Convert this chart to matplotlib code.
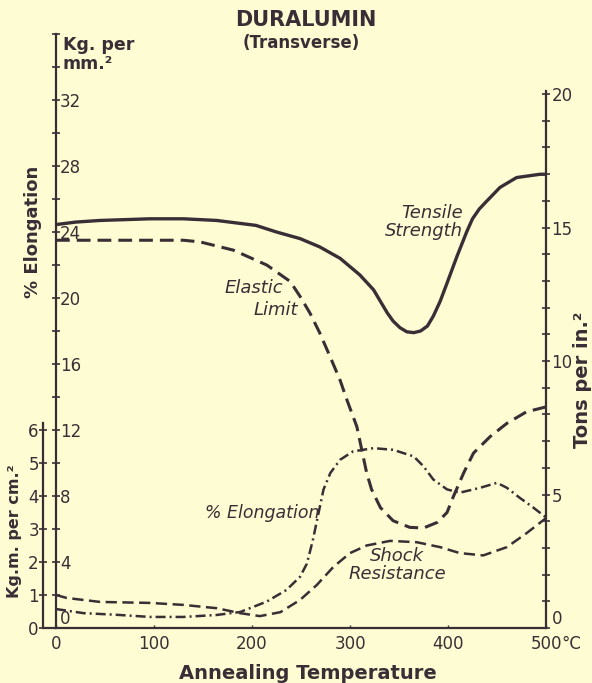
import matplotlib

matplotlib.use("Agg")
import matplotlib.pyplot as plt
from matplotlib.ticker import FixedLocator, MultipleLocator

# readings, x in deg C
tensile_t = [0, 20, 45, 96, 130, 164, 204, 225, 249, 269, 290, 310, 324, 331, 338,
             344, 351, 358, 365, 372, 379, 385, 392, 399, 409, 419, 425, 432, 440,
             453, 470, 494, 500]
tensile = [24.45, 24.6, 24.7, 24.8, 24.8, 24.7, 24.4, 24.0, 23.6, 23.1, 22.4, 21.4,
           20.5, 19.8, 19.1, 18.6, 18.2, 17.95, 17.9, 18.0, 18.3, 18.9, 19.8, 20.9,
           22.5, 24.0, 24.8, 25.4, 25.9, 26.7, 27.3, 27.5, 27.5]

elastic_t = [0, 60, 130, 147, 181, 215, 239, 249, 259, 269, 280, 290, 297, 307, 312,
             317, 322, 331, 344, 361, 375, 389, 399, 405, 416, 426, 443, 460, 480, 500]
elastic = [23.5, 23.5, 23.5, 23.4, 22.9, 22.0, 21.0, 20.1, 19.1, 17.9, 16.4, 15.0,
           13.8, 12.2, 10.8, 9.4, 8.4, 7.3, 6.5, 6.1, 6.06, 6.4, 7.0, 7.9, 9.4, 10.6,
           11.6, 12.4, 13.1, 13.4]

elong_t = [0, 28, 62, 96, 130, 164, 188, 215, 235, 249, 256, 262, 268, 273, 280, 290,
           303, 324, 344, 365, 375, 385, 399, 412, 433, 450, 460, 473, 487, 500]
elong = [1.15, 0.9, 0.8, 0.67, 0.67, 0.79, 0.97, 1.6, 2.3, 3.1, 3.9, 5.3, 7.0, 8.4,
         9.4, 10.2, 10.7, 10.9, 10.8, 10.4, 9.8, 9.0, 8.4, 8.2, 8.5, 8.8, 8.5, 7.9,
         7.3, 6.7]

shock_t = [0, 11, 45, 96, 130, 164, 188, 208, 229, 249, 266, 283, 300, 317, 341, 368,
           392, 412, 436, 460, 480, 500]
shock = [1.0, 0.91, 0.79, 0.76, 0.7, 0.6, 0.45, 0.36, 0.48, 0.85, 1.3, 1.85, 2.27,
         2.5, 2.64, 2.6, 2.45, 2.27, 2.2, 2.45, 2.87, 3.33]

x_ticks = [0, 100, 200, 300, 400, 500]
kg_ticks = [0, 4, 8, 12, 16, 20, 24, 28, 32]
tons_ticks = [0, 5, 10, 15, 20]
shock_ticks = [0, 1, 2, 3, 4, 5, 6]

INK = "#3a2e36"
PAPER = "#fdfcd2"
plt.rcParams["font.family"] = ["DejaVu Sans"]
plt.rcParams["text.color"] = INK

W, H = 592, 683
fig = plt.figure(figsize=(W / 100, H / 100), dpi=100, facecolor=PAPER)
ax = fig.add_axes([56 / W, 55 / H, 490 / W, 594 / H])
ax.set_facecolor(PAPER)
ax.set_xlim(0, 500)
ax.set_ylim(0, 36)

for s in ("top", "right"):
    ax.spines[s].set_visible(False)
for s in ("left", "bottom"):
    ax.spines[s].set_color(INK)
    ax.spines[s].set_linewidth(1.6)
ax.spines["left"].set_bounds(0, 36)

# bottom line runs on to the shock axis
ax.plot([-13 / 490, 0], [0, 0], transform=ax.transAxes, color=INK, lw=1.6,
        clip_on=False, solid_capstyle="butt")

ax.set_xticks(x_ticks)
ax.set_xticklabels(["0", "100", "200", "300", "400", "500"])
ax.tick_params(axis="x", direction="in", length=2, width=1, color=INK,
               labelcolor=INK, labelsize=12, pad=5)
ax.text((561 - 56) / 490, -0.012, "\u00b0C", transform=ax.transAxes, ha="left",
        va="top", fontsize=12, color=INK)

ax.set_yticks(kg_ticks)
ax.yaxis.set_minor_locator(MultipleLocator(2))
ax.tick_params(axis="y", which="both", direction="inout", length=6, width=1.2,
               color=INK, labelcolor=INK, labelsize=12, pad=-6)
for lab in ax.get_yticklabels():
    lab.set_ha("left")
ax.get_yticklabels()[0].set_va("bottom")

# Tons per sq. in. scale on the right
ax_t = ax.twinx()
ax_t.set_ylim(0, 22.25)
for s in ("top", "left", "bottom"):
    ax_t.spines[s].set_visible(False)
ax_t.spines["right"].set_bounds(0, 20.1)
ax_t.spines["right"].set_color(INK)
ax_t.spines["right"].set_linewidth(1.6)
ax_t.set_yticks(tons_ticks)
ax_t.yaxis.set_minor_locator(FixedLocator(range(0, 21)))
ax_t.tick_params(axis="y", which="both", direction="inout", length=6, width=1.2,
                 color=INK, labelcolor=INK, labelsize=12, pad=1)
ax_t.get_yticklabels()[0].set_va("bottom")

# shock resistance scale, Kg.m. per sq. cm
ax_s = ax.twinx()
ax_s.set_ylim(0, 18)
for s in ("top", "right", "bottom"):
    ax_s.spines[s].set_visible(False)
ax_s.spines["left"].set_visible(True)
ax_s.spines["left"].set_position(("axes", -13 / 490))
ax_s.spines["left"].set_bounds(0, 6.2)
ax_s.spines["left"].set_color(INK)
ax_s.spines["left"].set_linewidth(1.6)
ax_s.yaxis.set_ticks_position("left")
ax_s.set_yticks(shock_ticks)
ax_s.tick_params(axis="y", direction="inout", length=6, width=1.2, color=INK,
                 labelcolor=INK, labelsize=12, pad=0)

ax.plot(tensile_t, tensile, color=INK, lw=2.4, solid_capstyle="round",
        solid_joinstyle="round")
ax.plot(elastic_t, elastic, color=INK, lw=2.2, dashes=(4.5, 2.3),
        dash_joinstyle="round")
ax.plot(elong_t, elong, color=INK, lw=1.8, dashes=(4, 1.6, 0.8, 1.6))
ax_s.plot(shock_t, shock, color=INK, lw=1.8, dashes=(4.5, 2.2))

it = dict(fontsize=13, style="italic", color=INK)
ax.text(415, 24.6, "Tensile\nStrength", ha="right", va="center",
        linespacing=1.0, **it)
ax.text(232, 20.6, "Elastic", ha="right", va="center", **it)
ax.text(247, 19.3, "Limit", ha="right", va="center", **it)
ax.text(152, 7.0, "% Elongation", ha="left", va="center", fontsize=12.5,
        style="italic", color=INK)
ax.text(348, 3.8, "Shock\nResistance", ha="center", va="center",
        linespacing=1.0, **it)

ax.set_xlabel("Annealing Temperature", fontsize=14, fontweight="bold",
              color=INK)
ax.xaxis.set_label_coords((308 - 56) / 490, -0.06)

fig.text(306 / W, 1 - 20 / H, "DURALUMIN", ha="center", va="center",
         fontsize=15, fontweight="bold", color=INK)
fig.text(301 / W, 1 - 43 / H, "(Transverse)", ha="center", va="center",
         fontsize=12, fontweight="bold", color=INK)
fig.text(63 / W, 1 - 36 / H, "Kg. per\nmm.\u00b2", ha="left", va="top",
         fontsize=12.5, fontweight="bold", color=INK, linespacing=1.1)
fig.text(33 / W, 1 - 232 / H, "% Elongation", ha="center", va="center",
         rotation=90, fontsize=13, fontweight="bold", color=INK)
fig.text(15 / W, 1 - 531 / H, "Kg.m. per cm.\u00b2", ha="center", va="center",
         rotation=90, fontsize=11.5, fontweight="bold", color=INK)
fig.text(583 / W, 1 - 380 / H, "Tons per in.\u00b2", ha="center", va="center",
         rotation=90, fontsize=14, fontweight="bold", color=INK)

fig.savefig("out.png", dpi=100, facecolor=PAPER)
